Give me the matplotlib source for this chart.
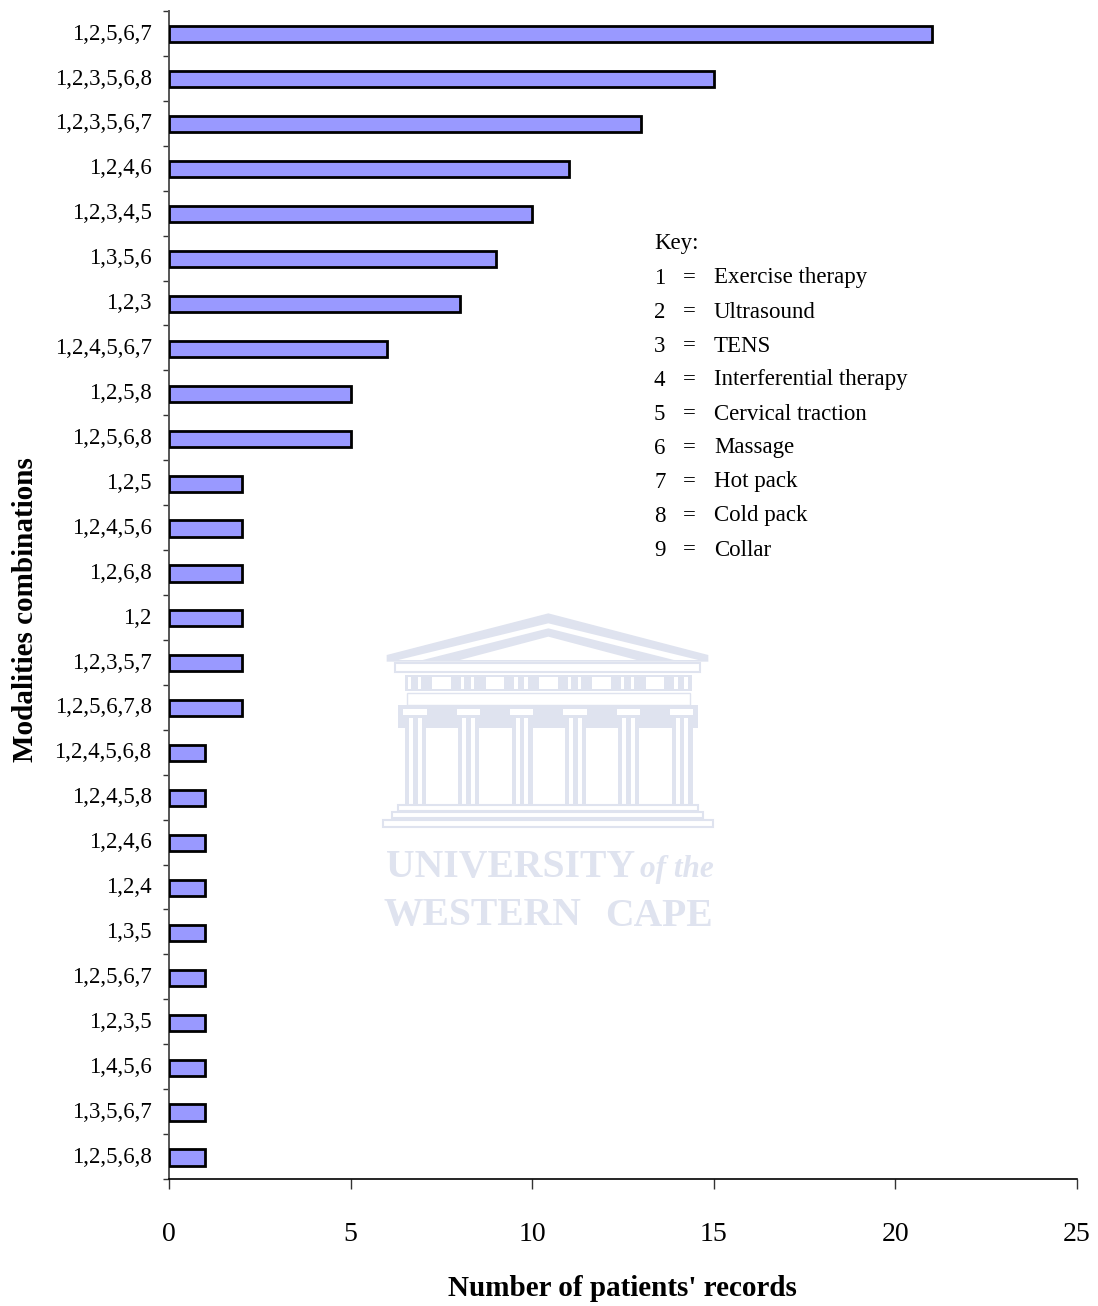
import matplotlib
matplotlib.use("Agg")
import matplotlib.pyplot as plt
from matplotlib.patches import Polygon, Rectangle
from matplotlib.transforms import ScaledTranslation

plt.rcParams['font.family'] = ['Liberation Serif', 'DejaVu Serif']

combinations = ["1,2,5,6,7", "1,2,3,5,6,8", "1,2,3,5,6,7", "1,2,4,6", "1,2,3,4,5", "1,3,5,6", "1,2,3",
                "1,2,4,5,6,7", "1,2,5,8", "1,2,5,6,8", "1,2,5", "1,2,4,5,6", "1,2,6,8", "1,2", "1,2,3,5,7",
                "1,2,5,6,7,8", "1,2,4,5,6,8", "1,2,4,5,8", "1,2,4,6", "1,2,4", "1,3,5", "1,2,5,6,7",
                "1,2,3,5", "1,4,5,6", "1,3,5,6,7", "1,2,5,6,8"]
records = [21, 15, 13, 11, 10, 9, 8, 6, 5, 5, 2, 2, 2, 2, 2, 2, 1, 1, 1, 1, 1, 1, 1, 1, 1, 1]
key_numbers = ["1", "2", "3", "4", "5", "6", "7", "8", "9"]
key_names = ["Exercise therapy", "Ultrasound", "TENS", "Interferential therapy", "Cervical traction",
             "Massage", "Hot pack", "Cold pack", "Collar"]
x_ticks = [0, 5, 10, 15, 20, 25]

W, H = 1098, 1306
fig = plt.figure(figsize=(W / 100, H / 100), dpi=100, facecolor='white')
ax = fig.add_axes([169 / W, 1 - 1179 / H, (1077 - 169) / W, (1179 - 11) / H])

n = len(records)
pos = list(range(n))
ax.barh(pos, records, height=0.36, color='#9999ff', edgecolor='black', linewidth=2, zorder=3)
ax.set_ylim(n - 0.52, -0.52)
ax.set_xlim(0, 25)

for s in ('top', 'right'):
    ax.spines[s].set_visible(False)
ax.spines['left'].set_color('#555555')
ax.spines['left'].set_linewidth(1.4)
ax.spines['bottom'].set_linewidth(1.2)

ax.set_xticks(x_ticks)
ax.set_xticklabels([str(v) for v in x_ticks], fontsize=20)
ax.tick_params(axis='x', length=7.2, width=1, pad=24, color='#333333')
ax.set_yticks(pos)
ax.set_yticklabels(combinations, fontsize=16.5)
ax.tick_params(axis='y', which='major', length=0, pad=12.5)
ax.set_yticks([i - 0.52 for i in range(n + 1)], minor=True)
ax.tick_params(axis='y', which='minor', length=4.5, width=1, color='#333333')
offset = ScaledTranslation(0, 2 / 72, fig.dpi_scale_trans)
for lab in ax.get_yticklabels():
    lab.set_transform(lab.get_transform() + offset)

fig.text(622 / W, 1 - 1288 / H, "Number of patients' records", fontsize=21, fontweight='bold',
         ha='center', va='center')
fig.text(26 / W, 1 - 610 / H, "Modalities combinations", fontsize=21, fontweight='bold',
         rotation=90, ha='center', va='center')

# Overlay in pixel coordinates for the key and the watermark
ov = fig.add_axes([0, 0, 1, 1], facecolor='none')
ov.set_xlim(0, W)
ov.set_ylim(H, 0)
ov.axis('off')

ov.text(654, 244, "Key:", fontsize=16.5, va='center')
for i, (k, name) in enumerate(zip(key_numbers, key_names)):
    y = 278 + 34 * i
    ov.text(654, y, k, fontsize=16.5, va='center')
    ov.text(683, y, "=", fontsize=16.5, va='center')
    ov.text(714, y, name, fontsize=16.5, va='center')

WM = '#dfe3ef'
def z(x, y):
    return (370 + x / 3, 600 + y / 3)
def poly(pts, fc=WM, ec='none', lw=0):
    ov.add_patch(Polygon([z(*p) for p in pts], closed=True, facecolor=fc, edgecolor=ec, linewidth=lw))
def rect(x0, y0, x1, y1, fc=WM, ec='none', lw=0):
    a, b = z(x0, y0), z(x1, y1)
    ov.add_patch(Rectangle(a, b[0] - a[0], b[1] - a[1], facecolor=fc, edgecolor=ec, linewidth=lw))

poly([(50, 165), (535, 40), (1015, 165), (1015, 185), (50, 185)])
poly([(85, 180), (535, 70), (985, 180)], fc='white')
poly([(150, 182), (535, 85), (920, 182)])
poly([(270, 180), (535, 110), (800, 180)], fc='white')
rect(75, 190, 990, 215, fc='white', ec=WM, lw=1.5)
rect(105, 225, 965, 272)
rect(110, 280, 960, 315, fc='white', ec=WM, lw=1)
rect(85, 315, 985, 385)
for c in [135, 295, 455, 615, 775, 935]:
    rect(c - 35, 328, c + 35, 345, fc='white')
    rect(c - 30, 350, c + 33, 615)
    rect(c - 18, 355, c - 6, 615, fc='white')
    rect(c + 8, 355, c + 20, 615, fc='white')
    rect(c - 22, 232, c - 12, 267, fc='white')
    rect(c + 8, 232, c + 18, 267, fc='white')
for c in [215, 375, 535, 695, 855]:
    rect(c - 28, 232, c + 28, 267, fc='white')
rect(85, 615, 985, 632, fc='white', ec=WM, lw=1.5)
rect(65, 637, 1000, 655, fc='white', ec=WM, lw=1.5)
rect(40, 660, 1030, 680, fc='white', ec=WM, lw=1.5)

ov.text(386, 868, "UNIVERSITY", fontsize=28.5, fontweight='bold', color=WM, ha='left', va='center')
ov.text(640, 870, "of the", fontsize=22.5, fontstyle='italic', fontweight='bold', color=WM, ha='left', va='center')
ov.text(383, 916, "WESTERN", fontsize=28.5, fontweight='bold', color=WM, ha='left', va='center')
ov.text(713, 916, "CAPE", fontsize=28.5, fontweight='bold', color=WM, ha='right', va='center')

fig.savefig("out.png", dpi=100, facecolor='white')
